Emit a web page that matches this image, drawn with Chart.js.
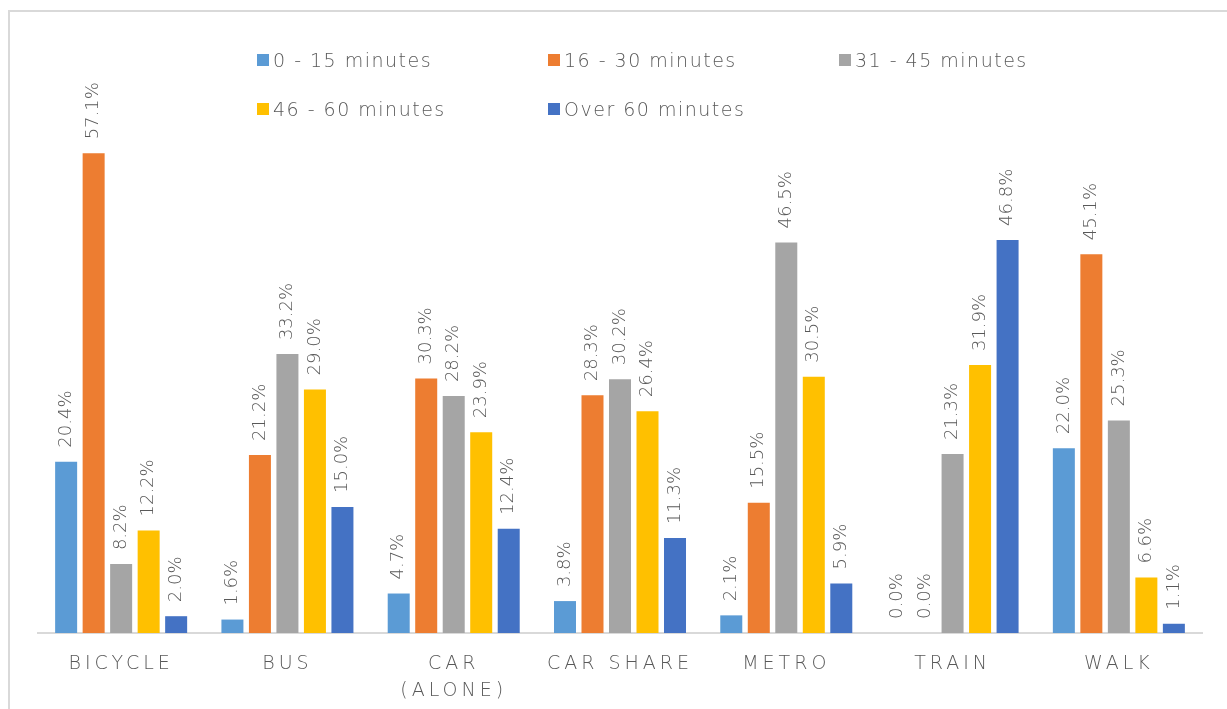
<!DOCTYPE html>
<html>
<head>
<meta charset="utf-8">
<script src="https://cdn.jsdelivr.net/npm/chart.js@4.4.1/dist/chart.umd.min.js"></script>
<style>
  html, body { margin: 0; padding: 0; background: #ffffff; }
  #wrap { position: relative; width: 1227px; height: 709px; overflow: hidden; }
  #frame { position: absolute; left: 8px; top: 10px; width: 1225px; height: 705px;
           border-left: 2px solid #d9d9d9; border-top: 2px solid #d9d9d9; }
  canvas { position: absolute; left: 0; top: 0; }
  .lg { position: absolute; height: 24px; display: flex; align-items: center;
        font-family: "DejaVu Sans", sans-serif; font-size: 19px; font-weight: 300; color: #595959;
        letter-spacing: 1.5px; white-space: nowrap; }
  .lg i { display: inline-block; width: 12px; height: 12px; margin-right: 4px; }
</style>
</head>
<body>
<div id="wrap">
  <div id="frame"></div>
  <canvas id="c" width="1227" height="709"></canvas>
  <div id="legend"></div>
</div>
<script>
const categories = [["BICYCLE"], ["BUS"], ["CAR", "(ALONE)"], ["CAR SHARE"], ["METRO"], ["TRAIN"], ["WALK"]];
const seriesNames = ["0 - 15 minutes", "16 - 30 minutes", "31 - 45 minutes", "46 - 60 minutes", "Over 60 minutes"];
const min0to15 = [20.4, 1.6, 4.7, 3.8, 2.1, 0.0, 22.0];
const min16to30 = [57.1, 21.2, 30.3, 28.3, 15.5, 0.0, 45.1];
const min31to45 = [8.2, 33.2, 28.2, 30.2, 46.5, 21.3, 25.3];
const min46to60 = [12.2, 29.0, 23.9, 26.4, 30.5, 31.9, 6.6];
const over60 = [2.0, 15.0, 12.4, 11.3, 5.9, 46.8, 1.1];
const seriesColors = ["#5B9BD5", "#ED7D31", "#A5A5A5", "#FFC000", "#4472C4"];

const seriesValues = [min0to15, min16to30, min31to45, min46to60, over60];

// HTML legend (grid of 3 columns)
const legendPos = [[257, 48], [548, 48], [839, 48], [257, 97], [548, 97]];
const legendEl = document.getElementById('legend');
seriesNames.forEach((n, i) => {
  const d = document.createElement('div');
  d.className = 'lg';
  d.style.left = legendPos[i][0] + 'px';
  d.style.top = legendPos[i][1] + 'px';
  d.innerHTML = '<i style="background:' + seriesColors[i] + '"></i><span></span>';
  d.querySelector('span').textContent = n;
  legendEl.appendChild(d);
});

const spacingPlugin = {
  id: 'spacing',
  beforeDraw(chart) { chart.ctx.letterSpacing = '4px'; },
  beforeDatasetsDraw(chart) { chart.ctx.letterSpacing = '0px'; }
};

const valueLabels = {
  id: 'valueLabels',
  afterDatasetsDraw(chart) {
    const ctx = chart.ctx;
    ctx.save();
    ctx.letterSpacing = '0px';
    ctx.font = '300 18px "DejaVu Sans", sans-serif';
    ctx.fillStyle = '#595959';
    ctx.textAlign = 'left';
    ctx.textBaseline = 'middle';
    chart.data.datasets.forEach((ds, di) => {
      const meta = chart.getDatasetMeta(di);
      meta.data.forEach((el, i) => {
        const v = ds.data[i];
        ctx.save();
        ctx.translate(el.x, el.y - 14);
        ctx.rotate(-Math.PI / 2);
        ctx.fillText(v.toFixed(1) + '%', 0, 0);
        ctx.restore();
      });
    });
    ctx.restore();
  }
};

new Chart(document.getElementById('c'), {
  type: 'bar',
  data: {
    labels: categories,
    datasets: seriesNames.map((n, i) => ({
      label: n,
      data: seriesValues[i],
      backgroundColor: seriesColors[i],
      borderWidth: 0,
      categoryPercentage: 0.827,
      barPercentage: 0.8
    }))
  },
  options: {
    responsive: false,
    animation: false,
    layout: { padding: { left: 38, right: 25, top: 129, bottom: 0 } },
    plugins: { legend: { display: false }, tooltip: { enabled: false } },
    scales: {
      x: {
        grid: { display: false, drawTicks: false },
        border: { display: true, color: '#d9d9d9', width: 2 },
        ticks: {
          color: '#595959',
          font: { family: '"DejaVu Sans", sans-serif', size: 19, weight: '300', lineHeight: 1.4 },
          padding: 18,
          maxRotation: 0,
          autoSkip: false
        },
        afterFit(scale) { scale.height = 76; }
      },
      y: {
        display: false,
        min: 0,
        max: 60
      }
    }
  },
  plugins: [spacingPlugin, valueLabels]
});
</script>
</body>
</html>
